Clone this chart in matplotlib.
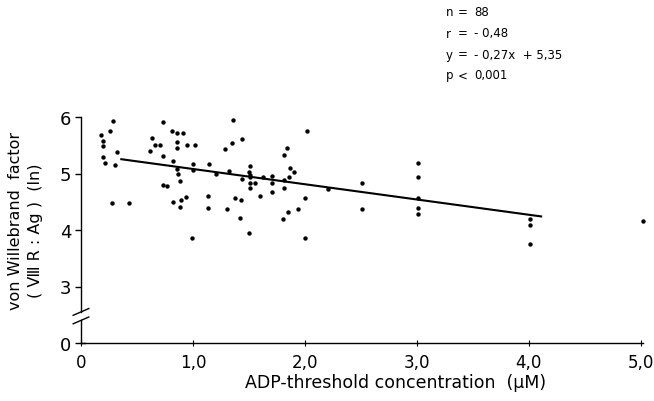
import numpy as np
import matplotlib
matplotlib.use('Agg')
import matplotlib.pyplot as plt

# ADP-threshold concentration (uM) and von Willebrand factor (ln)
adp = [0.29, 0.18, 0.26, 0.20, 0.20, 0.32, 0.20, 0.21, 0.30, 0.28,
       0.43, 0.73, 0.63, 0.66, 0.71, 0.62, 0.73, 0.73, 0.77, 1.36,
       0.81, 0.86, 0.91, 1.44, 0.86, 0.95, 1.02, 0.86, 1.35, 1.29,
       0.82, 1.00, 1.14, 0.86, 0.87, 1.00, 1.21, 1.32, 1.51, 1.50,
       1.51, 1.51, 1.44, 1.55, 1.51, 1.51, 0.88, 0.94, 0.89, 0.82,
       0.88, 1.13, 1.13, 1.30, 1.38, 1.43, 1.42, 1.50, 0.99, 2.02,
       1.84, 1.81, 1.87, 1.90, 1.86, 1.63, 1.71, 1.81, 1.71, 1.71,
       1.81, 1.60, 2.00, 2.21, 1.94, 1.85, 1.80, 2.00, 2.51, 2.51,
       3.01, 3.01, 3.01, 3.01, 3.01, 4.01, 4.01, 4.01, 5.02]
vwf = [5.93, 5.68, 5.75, 5.58, 5.48, 5.38, 5.30, 5.19, 5.15, 4.48,
       4.48, 5.92, 5.62, 5.51, 5.50, 5.39, 5.31, 4.80, 4.78, 5.94,
       5.75, 5.72, 5.72, 5.61, 5.55, 5.50, 5.50, 5.45, 5.54, 5.43,
       5.23, 5.16, 5.17, 5.08, 5.00, 5.06, 4.99, 5.04, 5.14, 5.02,
       4.98, 4.93, 4.90, 4.83, 4.83, 4.75, 4.87, 4.58, 4.53, 4.50,
       4.41, 4.61, 4.39, 4.37, 4.57, 4.53, 4.22, 3.95, 3.86, 5.75,
       5.45, 5.33, 5.09, 5.02, 4.94, 4.94, 4.96, 4.88, 4.83, 4.67,
       4.74, 4.61, 4.57, 4.73, 4.38, 4.32, 4.19, 3.86, 4.83, 4.38,
       5.18, 4.93, 4.57, 4.39, 4.28, 4.19, 4.09, 3.75, 4.16]

# regression line y = -0.27x + 5.35, drawn over this x range
slope, intercept = -0.27, 5.35
fit_x = [0.36, 4.11]

xticks = [0, 1, 2, 3, 4, 5]
xtick_labels = ['0', '1,0', '2,0', '3,0', '4,0', '5,0']
# the "0" of the broken y axis sits one unit below 3
yticks = [2, 3, 4, 5, 6]
ytick_labels = ['0', '3', '4', '5', '6']

stat_names = ['n', 'r', 'y', 'p']
stat_ops = ['=', '=', '=', '<']
stat_vals = ['88', '- 0,48', '- 0,27x  + 5,35', '0,001']

plt.rcParams['font.family'] = ['DejaVu Sans']

fig = plt.figure(figsize=(6.54, 4.02), dpi=100)
# x=0 at 81 px, x=5 at 641 px, y=6 at 118 px, y-axis "0" at 344 px
ax = fig.add_axes([81 / 654, 58 / 402, 562 / 654, 226 / 402])

ax.scatter(adp, vwf, s=10, c='black', lw=0, zorder=3, clip_on=False)
fx = np.array(fit_x)
ax.plot(fx, slope * fx + intercept, color='black', lw=1.5)

ax.set_xlim(0, 5.02)
ax.set_ylim(2, 6)

for side in ['top', 'right', 'left']:
    ax.spines[side].set_visible(False)
ax.spines['bottom'].set_linewidth(1.0)

# broken y axis drawn by hand
brk_lo, brk_hi = 2.40, 2.55
ax.plot([0, 0], [2, brk_lo], color='black', lw=1.0, clip_on=False)
ax.plot([0, 0], [brk_hi, 6], color='black', lw=1.0, clip_on=False)
for yb in [brk_lo, brk_hi]:
    ax.plot([-0.07, 0.07], [yb - 0.06, yb + 0.06], color='black', lw=1.0, clip_on=False)
ax.plot([0.0, 0.04], [2, 2], color='black', lw=1.0, clip_on=False)

ax.set_xticks(xticks)
ax.set_xticklabels(xtick_labels)
ax.set_yticks(yticks)
ax.set_yticklabels(ytick_labels)
ax.tick_params(axis='x', direction='inout', length=4, width=0.8, labelsize=12, pad=5)
ax.tick_params(axis='y', direction='out', length=4, width=1.0, labelsize=13, pad=3)

ax.set_xlabel('ADP-threshold concentration  (\u03bcM)', fontsize=12.5, va='center')
ax.xaxis.set_label_coords(396 / 654, 1 - 383 / 402, transform=fig.transFigure)

fig.text(16 / 654, 1 - 221 / 402, 'von Willebrand  factor', rotation=90, fontsize=11.5,
         ha='center', va='center')
fig.text(36 / 654, 1 - 231 / 402, '( \u2167 R : Ag )  (ln)', rotation=90, fontsize=11.5,
         ha='center', va='center')

for i in range(len(stat_names)):
    yy = 1 - (13 + i * 21) / 402
    fig.text(446 / 654, yy, stat_names[i], fontsize=8.5, ha='left', va='center')
    fig.text(458 / 654, yy, stat_ops[i], fontsize=8.5, ha='left', va='center')
    fig.text(474 / 654, yy, stat_vals[i], fontsize=8.5, ha='left', va='center')

fig.savefig('out.png', dpi=100)
